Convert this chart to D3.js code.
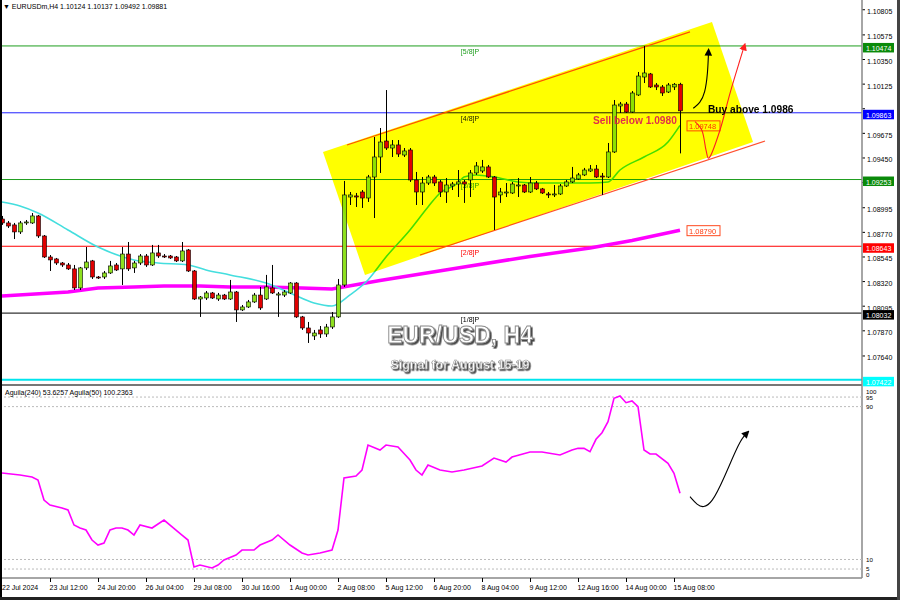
<!DOCTYPE html>
<html><head><meta charset="utf-8">
<script src="https://cdn.jsdelivr.net/npm/d3@7"></script>
<style>
html,body{margin:0;padding:0;background:#fff;}
svg{display:block;font-family:"Liberation Sans",Arial,sans-serif;}
</style></head><body>
<svg id="c" width="900" height="600"></svg>
<script>
// ---------- DATA ----------
const openP=[1.08892,1.08856,1.08838,1.08774,1.08856,1.08856,1.08920,1.08737,1.08545,1.08527,
1.08490,1.08472,1.08436,1.08262,1.08445,1.08509,1.08362,1.08362,1.08399,1.08472,
1.08436,1.08572,1.08445,1.08490,1.08554,1.08472,1.08582,1.08554,1.08554,1.08545,
1.08509,1.08609,1.08417,1.08161,1.08170,1.08216,1.08161,1.08197,1.08161,1.08225,
1.08061,1.08088,1.08134,1.08197,1.08161,1.08262,1.08197,1.08197,1.08216,1.08307,
1.07997,1.07896,1.07823,1.07878,1.07841,1.07905,1.07997,1.08289,1.09093,1.09103,
1.09139,1.09084,1.09276,1.09459,1.09605,1.09541,1.09569,1.09477,1.09523,1.09249,
1.09139,1.09221,1.09276,1.09231,1.09139,1.09194,1.09212,1.09231,1.09249,1.09313,
1.09331,1.09368,1.09276,1.09112,1.09130,1.09130,1.09194,1.09203,1.09139,1.09221,
1.09167,1.09121,1.09112,1.09121,1.09194,1.09231,1.09258,1.09295,1.09331,1.09349,
1.09285,1.09276,1.09505,1.09925,1.09943,1.09870,1.10026,1.10190,1.10218,1.10117,
1.10099,1.10053,1.10099,1.10124];
const highP=[1.08920,1.08874,1.08856,1.08874,1.08883,1.08947,1.08929,1.08746,1.08563,1.08536,
1.08499,1.08490,1.08472,1.08454,1.08636,1.08518,1.08371,1.08417,1.08509,1.08490,
1.08636,1.08682,1.08509,1.08572,1.08572,1.08655,1.08655,1.08572,1.08563,1.08554,
1.08682,1.08618,1.08426,1.08188,1.08234,1.08225,1.08216,1.08207,1.08335,1.08234,
1.08106,1.08152,1.08216,1.08271,1.08381,1.08472,1.08225,1.08243,1.08315,1.08315,
1.08006,1.07951,1.07878,1.07914,1.07933,1.08042,1.08344,1.09240,1.09139,1.09130,
1.09157,1.09295,1.09642,1.09724,1.10071,1.09614,1.09614,1.09541,1.09541,1.09322,
1.09276,1.09295,1.09295,1.09249,1.09267,1.09231,1.09340,1.09249,1.09340,1.09413,
1.09432,1.09386,1.09285,1.09176,1.09221,1.09231,1.09267,1.09212,1.09276,1.09240,
1.09176,1.09139,1.09203,1.09212,1.09249,1.09368,1.09313,1.09359,1.09386,1.09386,
1.09313,1.09587,1.09980,1.09962,1.09962,1.10062,1.10236,1.10474,1.10227,1.10135,
1.10117,1.10135,1.10135,1.10137];
const lowP=[1.08838,1.08810,1.08709,1.08755,1.08838,1.08847,1.08719,1.08536,1.08417,1.08472,
1.08454,1.08426,1.08243,1.08243,1.08426,1.08344,1.08344,1.08344,1.08390,1.08417,
1.08289,1.08417,1.08399,1.08472,1.08454,1.08463,1.08536,1.08536,1.08527,1.08499,
1.08499,1.08408,1.08152,1.07997,1.08152,1.08161,1.08143,1.08152,1.08152,1.07951,
1.08051,1.08079,1.08125,1.08061,1.08152,1.08207,1.07997,1.08179,1.08207,1.07988,
1.07878,1.07759,1.07786,1.07805,1.07814,1.07887,1.07988,1.08271,1.09020,1.09002,
1.08993,1.09048,1.08901,1.09313,1.09523,1.09459,1.09459,1.09459,1.09231,1.09020,
1.09020,1.09203,1.09194,1.09093,1.09039,1.09157,1.09093,1.09039,1.09093,1.09295,
1.09313,1.09267,1.08792,1.09039,1.09093,1.09121,1.09093,1.09130,1.09130,1.09157,
1.09121,1.09084,1.09093,1.09112,1.09185,1.09221,1.09249,1.09285,1.09322,1.09267,
1.09112,1.09267,1.09496,1.09861,1.09861,1.09861,1.10017,1.10135,1.10090,1.10071,
1.10017,1.10044,1.10071,1.09492];
const closeP=[1.08856,1.08828,1.08774,1.08856,1.08865,1.08920,1.08737,1.08545,1.08518,1.08490,
1.08472,1.08436,1.08262,1.08445,1.08499,1.08362,1.08353,1.08399,1.08463,1.08426,
1.08572,1.08436,1.08490,1.08554,1.08472,1.08582,1.08554,1.08545,1.08536,1.08509,
1.08600,1.08417,1.08161,1.08179,1.08216,1.08170,1.08197,1.08161,1.08225,1.08061,
1.08088,1.08134,1.08197,1.08079,1.08271,1.08216,1.08207,1.08225,1.08307,1.07997,
1.07896,1.07850,1.07850,1.07841,1.07905,1.07997,1.08289,1.09112,1.09112,1.09093,
1.09084,1.09276,1.09459,1.09596,1.09541,1.09569,1.09486,1.09514,1.09249,1.09139,
1.09221,1.09276,1.09221,1.09139,1.09203,1.09212,1.09231,1.09212,1.09313,1.09377,
1.09368,1.09276,1.09093,1.09139,1.09139,1.09212,1.09203,1.09139,1.09221,1.09167,
1.09130,1.09112,1.09121,1.09194,1.09231,1.09267,1.09295,1.09340,1.09349,1.09276,
1.09276,1.09505,1.09934,1.09943,1.09870,1.10044,1.10199,1.10227,1.10099,1.10099,
1.10044,1.10117,1.10124,1.09881];

const xTickIdx=[0,8,16,24,32,40,48,56,64,72,80,88,96,104,112];
const xTickLabels=["22 Jul 2024","23 Jul 12:00","24 Jul 20:00","26 Jul 04:00","29 Jul 08:00","30 Jul 16:00","1 Aug 00:00","2 Aug 08:00","5 Aug 12:00","6 Aug 20:00","8 Aug 04:00","9 Aug 12:00","12 Aug 16:00","14 Aug 00:00","15 Aug 08:00"];
const priceTicks=[1.10805,1.10575,1.10350,1.10125,1.09900,1.09675,1.09450,1.09225,1.08995,1.08770,1.08545,1.08320,1.08095,1.07870,1.07640];

const levelVals=[1.10474,1.09863,1.09253,1.08643,1.08032,1.07422];
const levelNames=["[5/8]P","[4/8]P","[3/8]P","[2/8]P","[1/8]P","[0/8]P"];

// fast moving average
const maIdx=[0,3,6,11,16,22,26,31,34,38,44,48,52,55,58,61,64,68,71,73,76,77,79,82,86,89,93,98,101,103,107,111,113];
const maVal=[1.09048,1.09011,1.08947,1.08792,1.08636,1.08518,1.08490,1.08472,1.08426,1.08381,1.08307,1.08216,1.08125,1.08097,1.08198,1.08335,1.08545,1.08792,1.09002,1.09130,1.09221,1.09276,1.09295,1.09276,1.09231,1.09221,1.09221,1.09221,1.09231,1.09340,1.09459,1.09596,1.09748];
// slow moving average
const ma200Idx=[0,11,16,22,27,33,38,44,50,55,63,77,88,98,105,113];
const ma200Val=[1.08189,1.08225,1.08262,1.08271,1.08280,1.08280,1.08271,1.08271,1.08262,1.08253,1.08330,1.08454,1.08550,1.08627,1.08696,1.08790];
const priceTags=[1.09748,1.08790];

// Aguila oscillator
const agIdx=[0,3,5,6,7,8,10,11,12,13,14,15,16,17,18,19,20,21,22,23,25,27,29,30,31,32,33,35,36,37,39,40,42,43,45,46,48,50,51,53,55,56,57,59,60,61,63,64,66,68,69,70,71,73,75,77,80,82,84,85,88,90,93,95,96,97,98,99,100,101,102,103,104,105,106,107,108,109,111,112,113];
const agVal=[55.25,54.20,53.16,51.59,41.12,38.50,36.93,35.89,28.04,26.47,25.42,20.19,17.57,18.62,25.42,26.47,26.47,25.42,22.81,28.04,26.47,30.65,25.42,22.81,20.19,6.06,7.11,5.54,7.11,9.73,12.35,14.96,14.96,17.57,20.19,22.81,17.57,13.39,12.35,13.39,14.96,25.42,52.64,53.68,56.82,69.90,67.29,69.90,68.86,62.05,56.82,54.20,59.43,56.82,55.77,56.82,58.91,63.10,61.00,63.62,66.24,66.24,64.67,67.29,68.17,68.17,66.39,72.88,76.33,82.09,94.33,95.55,92.04,92.93,89.95,67.29,65.19,65.19,60.33,55.10,44.63];
const agLevels=[100,95,90,10,5,0];

// channel drawings (bar index, price)
const channelBox=[[53.5,1.09505],[118.33,1.10693],[125.17,1.09596],[60.5,1.08381]];
const channelUpper=[[57.5,1.09569],[114.67,1.10602]];
const channelLower=[[69.67,1.08563],[127.17,1.09605]];
const blackArrow=[[115.2,1.09904],[116.33,1.09950],[117.17,1.10041],[117.62,1.10224],[117.75,1.10420]];
const redArrow=[[115.5,1.09782],[116.62,1.09706],[117.33,1.09523],[117.72,1.09447],[118,1.09462],[119.67,1.09706],[121.33,1.10041],[123,1.10346],[123.7,1.10470]];
const agArrow=[[114.67,42.84],[115.88,38.50],[116.88,37.09],[118.28,39.39],[120.22,51.59],[123,72.52],[124.12,76.03]];

// ---------- STYLE ----------
const levelColors=["#1e9e1e","#2020ff","#1e9e1e","#ff0000","#000000","#00e5ee"];
const boxColors=["#0a8a0a","#0000ff","#0a8a0a","#ff0000","#000000","#00ffff"];
const bull="#8ee01e", bear="#e00000";

// ---------- DRAW ----------
const svg=d3.select("#c");
svg.append("rect").attr("width",900).attr("height",600).attr("fill","#fff");
const N=openP.length;
const x=d3.scaleLinear().domain([0,N-1]).range([2,680]);
const y=d3.scaleLinear().domain([1.07393,1.10894]).range([383,0]);
const yi=d3.scaleLinear().domain([0,100]).range([578.6,387.5]);
const AX=862;

const defs=svg.append("defs");
defs.append("clipPath").attr("id","cp").append("rect").attr("x",0).attr("y",0).attr("width",AX).attr("height",383);
defs.append("clipPath").attr("id","ci").append("rect").attr("x",0).attr("y",387).attr("width",AX).attr("height",191);
const mk=defs.append("marker").attr("id","ah").attr("viewBox","0 0 10 10").attr("refX",5).attr("refY",5)
  .attr("markerWidth",7).attr("markerHeight",7).attr("orient","auto-start-reverse");
mk.append("path").attr("d","M0,0L10,5L0,10z").attr("fill","#000");
const mkr=defs.append("marker").attr("id","ahr").attr("viewBox","0 0 10 10").attr("refX",5).attr("refY",5)
  .attr("markerWidth",7).attr("markerHeight",7).attr("orient","auto-start-reverse");
mkr.append("path").attr("d","M0,0L10,5L0,10z").attr("fill","#ff2020");
const fl=defs.append("filter").attr("id","sh").attr("x","-10%").attr("y","-30%").attr("width","130%").attr("height","180%");
fl.append("feDropShadow").attr("dx",1.6).attr("dy",1.6).attr("stdDeviation",0.7).attr("flood-color","#333").attr("flood-opacity",0.9);

const P=svg.append("g").attr("clip-path","url(#cp)");

// horizontal levels
levelVals.forEach((v,k)=>{
  P.append("line").attr("x1",0).attr("x2",AX).attr("y1",y(v)).attr("y2",y(v))
   .attr("stroke",levelColors[k]).attr("stroke-width",k===5?2:1);
  P.append("text").attr("x",x(78)).attr("y",y(v)+8.5).attr("text-anchor","middle")
   .attr("font-size",7).attr("fill",levelColors[k]).text(levelNames[k]);
});

// channel lines
const lineD=d3.line().x(d=>x(d[0])).y(d=>y(d[1]));
[channelUpper,channelLower].forEach(c=>P.append("path").attr("d",lineD(c)).attr("fill","none").attr("stroke","#ff5030").attr("stroke-width",1.2));

// slow MA
P.append("path").datum(ma200Idx.map((d,k)=>[d,ma200Val[k]])).attr("d",lineD)
 .attr("fill","none").attr("stroke","#ff00ff").attr("stroke-width",3.5);
// fast MA
P.append("path").datum(maIdx.map((d,k)=>[d,maVal[k]])).attr("d",d3.line().x(d=>x(d[0])).y(d=>y(d[1])).curve(d3.curveMonotoneX))
 .attr("fill","none").attr("stroke","#44dede").attr("stroke-width",1.6);

// candles
const cg=P.append("g");
d3.range(N).forEach(i=>{
  const cx=Math.round(x(i))+0.5;
  cg.append("line").attr("x1",cx).attr("x2",cx).attr("y1",y(highP[i])).attr("y2",y(lowP[i])).attr("stroke","#000").attr("stroke-width",1);
  const t=y(Math.max(openP[i],closeP[i])), b=y(Math.min(openP[i],closeP[i]));
  cg.append("rect").attr("x",cx-2).attr("y",t).attr("width",4).attr("height",Math.max(1,b-t))
    .attr("fill",closeP[i]>=openP[i]?bull:bear).attr("stroke","#000").attr("stroke-width",0.6);
});

// price tags for MAs
priceTags.forEach(v=>{
  const g=P.append("g");
  g.append("rect").attr("x",x(N-1)+7).attr("y",y(v)-4.5).attr("width",33).attr("height",10)
   .attr("fill","#fff").attr("stroke","#ff4a20").attr("stroke-width",1);
  g.append("text").attr("x",x(N-1)+9).attr("y",y(v)+3.5).attr("font-size",7.5).attr("fill","#ff3a10").text(v.toFixed(5));
});

// yellow channel box with multiply blend
P.append("path").attr("d",lineD(channelBox)+"Z").attr("fill","#ffff00").style("mix-blend-mode","multiply");

// arrows
P.append("path").attr("d",d3.line().x(d=>x(d[0])).y(d=>y(d[1])).curve(d3.curveBasis)(blackArrow))
 .attr("fill","none").attr("stroke","#000").attr("stroke-width",1.1).attr("marker-end","url(#ah)");
P.append("path").attr("d",d3.line().x(d=>x(d[0])).y(d=>y(d[1])).curve(d3.curveCatmullRom)(redArrow))
 .attr("fill","none").attr("stroke","#ff2020").attr("stroke-width",1.1).attr("marker-end","url(#ahr)");

// annotations
P.append("text").attr("x",x(117.67)).attr("y",y(1.09861)).attr("font-size",10.2).attr("font-weight","bold").attr("fill","#000").text("Buy above 1.0986");
P.append("text").attr("x",x(98.5)).attr("y",y(1.09761)).attr("font-size",10.2).attr("font-weight","bold").attr("fill","#e0304a").text("Sell below 1.0980");

// watermark
const wm=svg.append("g");
[["EUR/USD, H4",23,343,0.9],["Signal for August 15-19",12.5,369,0.5]].forEach(([t,fs,yy,sw])=>{
  wm.append("text").attr("x",460).attr("y",yy).attr("text-anchor","middle").attr("font-size",fs)
    .attr("font-weight","bold").attr("fill","#fff").attr("stroke","#8a8a8a").attr("stroke-width",sw)
    .attr("filter","url(#sh)").text(t);
});

// header
svg.append("text").attr("x",3).attr("y",9).attr("font-size",7).attr("fill","#000")
 .text("\u25BC EURUSDm,H4  1.10124 1.10137 1.09492 1.09881");

// price axis
const ax=svg.append("g");
priceTicks.forEach(v=>{
  ax.append("line").attr("x1",AX).attr("x2",AX+3).attr("y1",y(v)).attr("y2",y(v)).attr("stroke","#000");
  const hidden=levelVals.some(l=>Math.abs(y(l)-y(v))<4.5);
  if(!hidden) ax.append("text").attr("x",AX+5).attr("y",y(v)+4.5).attr("font-size",7).attr("fill","#000").text(v.toFixed(5));
});
levelVals.forEach((v,k)=>{
  ax.append("rect").attr("x",AX+1).attr("y",y(v)-3).attr("width",31).attr("height",9.5).attr("fill",boxColors[k]);
  ax.append("text").attr("x",AX+4).attr("y",y(v)+5).attr("font-size",7).attr("fill","#fff").text(v.toFixed(5));
});

// panel separators
svg.append("line").attr("x1",0).attr("x2",AX).attr("y1",385).attr("y2",385).attr("stroke","#777").attr("stroke-width",2);
svg.append("line").attr("x1",AX).attr("x2",AX).attr("y1",0).attr("y2",578).attr("stroke","#888").attr("stroke-width",1.5);
svg.append("line").attr("x1",0).attr("x2",AX).attr("y1",578).attr("y2",578).attr("stroke","#888").attr("stroke-width",1.5);

// indicator panel
const I=svg.append("g").attr("clip-path","url(#ci)");
[95,90,10,5].forEach(v=>I.append("line").attr("x1",0).attr("x2",AX).attr("y1",yi(v)).attr("y2",yi(v))
  .attr("stroke","#bbb").attr("stroke-dasharray","2,2"));
I.append("path").datum(agIdx.map((d,k)=>[d,agVal[k]]))
 .attr("d",d3.line().x(d=>x(d[0])).y(d=>yi(d[1]))).attr("fill","none").attr("stroke","#ff00ff").attr("stroke-width",1.6);
I.append("path").attr("d",d3.line().x(d=>x(d[0])).y(d=>yi(d[1])).curve(d3.curveBasis)(agArrow))
 .attr("fill","none").attr("stroke","#000").attr("stroke-width",1.1).attr("marker-end","url(#ah)");
svg.append("text").attr("x",5).attr("y",395).attr("font-size",7).attr("fill","#000").text("Aguila(240) 53.6257  Aguila(50) 100.2363");
const agLabelY={100:393.5,95:399.5,90:409,10:562,5:570.5,0:577};
agLevels.forEach(v=>{
  svg.append("text").attr("x",AX+4).attr("y",agLabelY[v]).attr("font-size",6.2).attr("fill","#000").text(v);
});

// time axis
xTickIdx.forEach((d,k)=>{
  const tx=Math.round(x(d))+0.5;
  if(k>0) svg.append("line").attr("x1",tx).attr("x2",tx).attr("y1",578).attr("y2",582).attr("stroke","#000");
  svg.append("text").attr("x",k===0?2:tx-1).attr("y",590).attr("font-size",7).attr("fill","#000").text(xTickLabels[k]);
});

// window frame
svg.append("rect").attr("x",0).attr("y",0).attr("width",2).attr("height",600).attr("fill","#000");
svg.append("rect").attr("x",0).attr("y",597).attr("width",900).attr("height",3).attr("fill","#222");
svg.append("rect").attr("x",897).attr("y",0).attr("width",3).attr("height",600).attr("fill","#444");
</script></body></html>
